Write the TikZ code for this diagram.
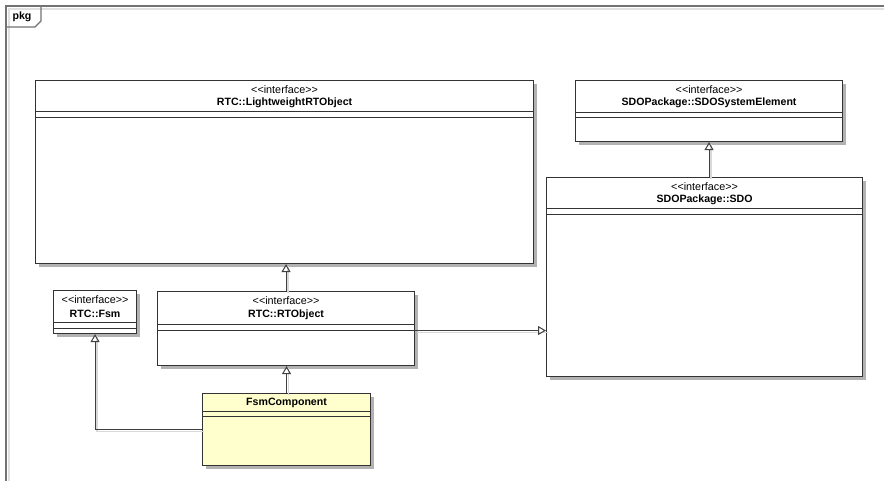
\documentclass[tikz,border=0pt]{standalone}
\usepackage{fontspec}
\setmainfont{Liberation Sans}
\usetikzlibrary{arrows.meta,shadows,calc}
\definecolor{compfill}{RGB}{255,255,206}
\tikzset{
  umlbox/.style={draw=black!80, line width=1.1pt, fill=white, anchor=north west, inner sep=0pt,
    drop shadow={shadow xshift=3pt, shadow yshift=-3pt, fill=black!30, opacity=1}},
  sep/.style={draw=black!80, line width=1pt},
  stereo/.style={font=\fontsize{10.8}{12}\selectfont, inner sep=0pt},
  cname/.style={font=\fontsize{10.6}{12}\selectfont\bfseries, inner sep=0pt},
  conn/.style={draw=black!75, line width=1pt, -{Triangle[open, length=8pt, width=9pt, line width=1pt]}},
  connshadow/.style={draw=black!15, line width=1.6pt, transform canvas={shift={(2pt,-2pt)}}},
  frameline/.style={draw=black!55, line width=1.5pt},
  frameinner/.style={draw=black!12, line width=1.3pt}
}
\newcommand\umlconn[1]{\draw[connshadow] #1; \draw[conn] #1;}
\begin{document}
\begin{tikzpicture}[x=1pt, y=-1pt]
\useasboundingbox (0,0) rectangle (884,481);
\fill[white] (0,0) rectangle (884,481);
% frame
\draw[frameinner] (9,900) -- (9,9) -- (1000,9);
\draw[frameline] (6,900) -- (6,6) -- (1000,6);
\draw[frameline, line width=1.2pt] (6,27) -- (35,27) -- (41,21) -- (41,6);
\node[font=\fontsize{10.6}{12}\selectfont\bfseries, inner sep=0pt] (pkg) at (22,16.5) {pkg};

% RTC::LightweightRTObject
\node[umlbox, minimum width=498pt, minimum height=183pt] (lw) at (35,80) {};
\node[stereo] (lwst) at ($(lw.north)+(0,10)$) {<{}<interface>{}>};
\node[cname] (lwnm) at ($(lw.north)+(0,23)$) {RTC::LightweightRTObject};
\draw[sep] ([yshift=-32pt]lw.north west) -- ([yshift=-32pt]lw.north east);
\draw[sep] ([yshift=-38pt]lw.north west) -- ([yshift=-38pt]lw.north east);

% SDOPackage::SDOSystemElement
\node[umlbox, minimum width=267pt, minimum height=61pt] (sse) at (575,80) {};
\node[stereo] (ssest) at ($(sse.north)+(0,10)$) {<{}<interface>{}>};
\node[cname] (ssenm) at ($(sse.north)+(0,23)$) {SDOPackage::SDOSystemElement};
\draw[sep] ([yshift=-33pt]sse.north west) -- ([yshift=-33pt]sse.north east);
\draw[sep] ([yshift=-38pt]sse.north west) -- ([yshift=-38pt]sse.north east);

% SDOPackage::SDO
\node[umlbox, minimum width=316pt, minimum height=199pt] (sdo) at (546,177) {};
\node[stereo] (sdost) at ($(sdo.north)+(0,10)$) {<{}<interface>{}>};
\node[cname] (sdonm) at ($(sdo.north)+(0,23)$) {SDOPackage::SDO};
\draw[sep] ([yshift=-32pt]sdo.north west) -- ([yshift=-32pt]sdo.north east);
\draw[sep] ([yshift=-38pt]sdo.north west) -- ([yshift=-38pt]sdo.north east);

% RTC::Fsm
\node[umlbox, minimum width=83pt, minimum height=43pt] (fsm) at (53,290) {};
\node[stereo] (fsmst) at ($(fsm.north)+(0,10)$) {<{}<interface>{}>};
\node[cname] (fsmnm) at ($(fsm.north)+(0,24)$) {RTC::Fsm};
\draw[sep] ([yshift=-32pt]fsm.north west) -- ([yshift=-32pt]fsm.north east);
\draw[sep] ([yshift=-38pt]fsm.north west) -- ([yshift=-38pt]fsm.north east);

% RTC::RTObject
\node[umlbox, minimum width=257pt, minimum height=74pt] (rto) at (157,291) {};
\node[stereo] (rtost) at ($(rto.north)+(0,10)$) {<{}<interface>{}>};
\node[cname] (rtonm) at ($(rto.north)+(0,24)$) {RTC::RTObject};
\draw[sep] ([yshift=-33pt]rto.north west) -- ([yshift=-33pt]rto.north east);
\draw[sep] ([yshift=-39pt]rto.north west) -- ([yshift=-39pt]rto.north east);

% FsmComponent
\node[umlbox, fill=compfill, minimum width=168pt, minimum height=72pt] (fc) at (202,393) {};
\node[cname] (fcnm) at ($(fc.north)+(0,10)$) {FsmComponent};
\draw[sep] ([yshift=-18pt]fc.north west) -- ([yshift=-18pt]fc.north east);
\draw[sep] ([yshift=-23pt]fc.north west) -- ([yshift=-23pt]fc.north east);

% connectors
\umlconn{(sse.south |- sdo.north) -- (sse.south)}
\umlconn{(rto.north) -- (rto.north |- lw.south)}
\umlconn{(fc.north) -- (fc.north |- rto.south)}
\umlconn{(fc.west) -| (fsm.south)}
\umlconn{([yshift=-2pt]rto.east) -- ([yshift=-2pt]rto.east -| sdo.west)}
\end{tikzpicture}
\end{document}
